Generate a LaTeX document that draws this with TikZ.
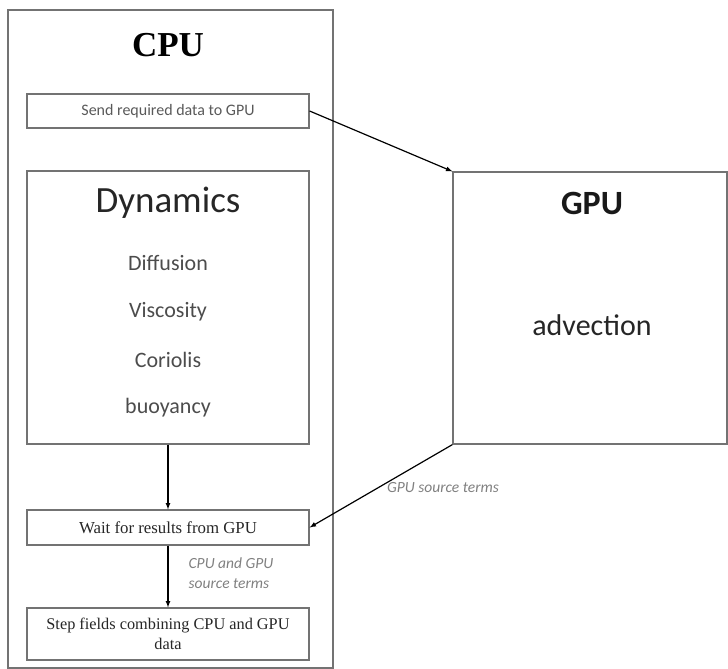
\documentclass[tikz,border=0pt]{standalone}
\usepackage{fontspec}
\setmainfont{Liberation Serif}
\newfontfamily\calib{Carlito}
\usetikzlibrary{arrows,positioning}
\tikzstyle{block} = [draw=black!55, line width=1.2pt, rectangle, inner sep=0, minimum width=282pt]
\tikzstyle{label} = [inner sep=0, text=black!70]
\tikzstyle{note} = [inner sep=0, text=black!50, font=\calib\itshape\fontsize{15.5}{17}\selectfont]
\tikzstyle{conn} = [draw, line width=1.2pt, -latex]

\begin{document}
\begin{tikzpicture}[x=1pt, y=-1pt, >=latex]
	  \useasboundingbox (0,0) rectangle (728,669);
	  % CPU side
	  \node [draw=black!55, line width=1.2pt, rectangle, inner sep=0, minimum width=325pt, minimum height=658pt] (cpu) at (170.5,339) {};
	  \node [inner sep=0, font=\bfseries\fontsize{35}{40}\selectfont] (cputitle) at (168,45) {CPU};
	  \node [block, minimum height=34pt, font=\calib\fontsize{16}{18}\selectfont, text=black!65] (send) at (168,111) {Send required data to GPU};
	  \node [block, minimum height=273pt] (dyn) at (168,307.5) {};
	  \node [inner sep=0, font=\calib\fontsize{37}{40}\selectfont, text=black!85] (dyntitle) at (168,203) {Dynamics};
	  \node [label, font=\calib\fontsize{22}{24}\selectfont] (diff) at (168,263) {Diffusion};
	  \node [label, font=\calib\fontsize{22}{24}\selectfont] (visc) at (168,312) {Viscosity};
	  \node [label, font=\calib\fontsize{22}{24}\selectfont] (cor) at (168,360) {Coriolis};
	  \node [label, font=\calib\fontsize{22}{24}\selectfont] (buoy) at (168,408) {buoyancy};
	  \node [block, minimum height=35pt, font=\fontsize{16.8}{18}\selectfont, text=black!85] (wait) at (168,527.5) {Wait for results from GPU};
	  \node [block, minimum height=52pt, font=\fontsize{16.3}{20}\selectfont, text=black!85, align=center] (stepf) at (168,634) {Step fields combining CPU and GPU\\data};
	  % GPU side
	  \node [draw=black!55, line width=1.2pt, rectangle, inner sep=0, minimum width=274pt, minimum height=272pt] (gpu) at (590,308) {};
	  \node [inner sep=0, font=\calib\bfseries\fontsize{34}{38}\selectfont, text=black!90] (gputitle) at (592,203) {GPU};
	  \node [label, font=\calib\fontsize{30}{32}\selectfont, text=black!85] (adv) at (592,325) {advection};

	  \draw [conn] (send.east) -- (gpu.north west);
	  \draw [conn] (gpu.south west) -- (wait.east);
	  \draw [conn] (dyn.south) -- (wait.north);
	  \draw [conn] (wait.south) -- (stepf.north);

	  \node [note] (gpusrc) at (443,488) {GPU source terms};
	  \node [note, align=left] (cpusrc) at (231,573) {CPU and GPU\\[3pt]source terms};
	\end{tikzpicture}
\end{document}
